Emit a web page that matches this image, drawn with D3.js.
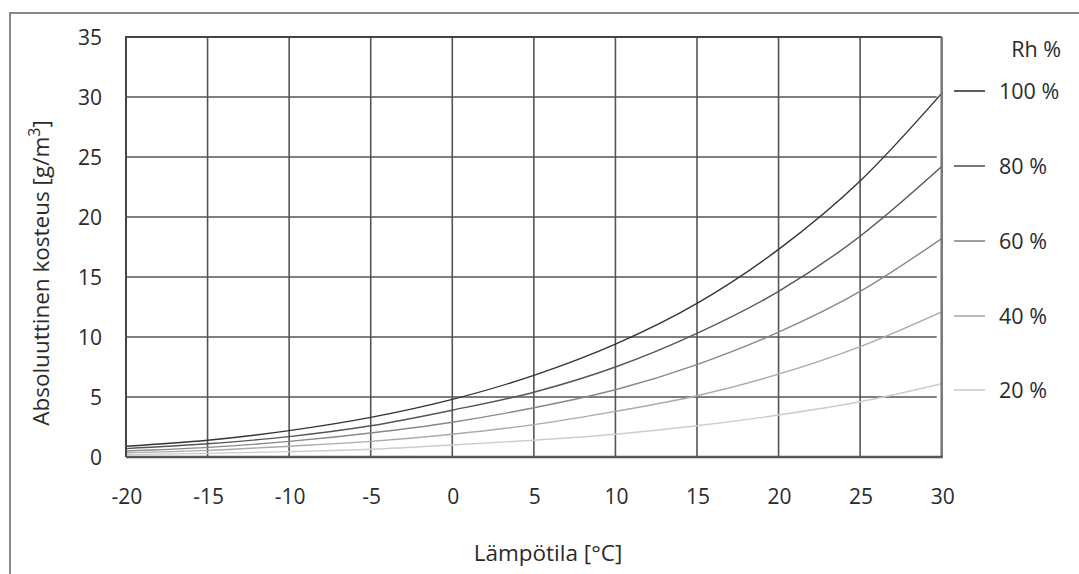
<!DOCTYPE html>
<html><head><meta charset="utf-8">
<script src="https://cdn.jsdelivr.net/npm/d3@7"></script>
<style>
html,body{margin:0;padding:0;background:#fff;}
svg text{font-family:"Open Sans","Noto Sans",sans-serif;fill:#2a2a2a;}
</style></head>
<body>
<svg id="chart" width="1079" height="574"></svg>
<script>
const temperatures = [-20,-15,-10,-5,0,5,10,15,20,25,30];
const rh100 = [0.9,1.4,2.2,3.3,4.8,6.8,9.4,12.8,17.3,23.0,30.3];
const rh80  = [0.7,1.1,1.7,2.6,3.9,5.4,7.5,10.3,13.8,18.4,24.2];
const rh60  = [0.5,0.8,1.3,2.0,2.9,4.1,5.6,7.7,10.4,13.8,18.2];
const rh40  = [0.35,0.55,0.9,1.3,1.9,2.7,3.8,5.1,6.9,9.2,12.1];
const rh20  = [0.2,0.3,0.45,0.65,1.0,1.4,1.9,2.6,3.5,4.6,6.1];
const seriesNames = ["100 %","80 %","60 %","40 %","20 %"];
const seriesValues = [rh100,rh80,rh60,rh40,rh20];
const seriesColors = ["#333","#555","#888","#aaa","#ccc"];
const xTicks = [-20,-15,-10,-5,0,5,10,15,20,25,30];
const yTicks = [0,5,10,15,20,25,30,35];

const svg = d3.select("#chart");
const L=126, R=941.7, T=37, B=457;
const x = d3.scaleLinear().domain([-20,30]).range([L,R]);
const y = d3.scaleLinear().domain([0,35]).range([B,T]);

// outer frame
svg.append("path").attr("d",`M10,580 V13 H1090`).attr("fill","none")
  .attr("stroke","#888").attr("stroke-width",2);

// grid
const g = svg.append("g");
g.selectAll(".vg").data(xTicks.slice(1,-1)).join("line")
  .attr("x1",d=>x(d)).attr("x2",d=>x(d)).attr("y1",T).attr("y2",B)
  .attr("stroke","#555").attr("stroke-width",1.6);
g.selectAll(".hg").data(yTicks.slice(1,-1)).join("line")
  .attr("x1",L).attr("x2",R-5).attr("y1",d=>y(d)).attr("y2",d=>y(d))
  .attr("stroke","#555").attr("stroke-width",1.6);

// curves
const line = d3.line().x(d=>x(d[0])).y(d=>y(d[1])).curve(d3.curveMonotoneX);
seriesValues.forEach((vals,i)=>{
  svg.append("path").datum(temperatures.map((t,j)=>[t,vals[j]]))
    .attr("d",line).attr("fill","none").attr("stroke",seriesColors[i]).attr("stroke-width",1.4);
});

// plot border
svg.append("path").attr("d",`M${L},${B} V${T} H${R}`).attr("fill","none").attr("stroke","#444").attr("stroke-width",2);
svg.append("line").attr("x1",R).attr("x2",R).attr("y1",T).attr("y2",B).attr("stroke","#777").attr("stroke-width",2.5);
svg.append("line").attr("x1",L).attr("x2",R+1).attr("y1",B).attr("y2",B).attr("stroke","#555").attr("stroke-width",2.5);

// y tick labels
svg.selectAll(".yl").data(yTicks).join("text")
  .attr("x",102).attr("y",d=>y(d)+7.5).attr("text-anchor","end")
  .attr("font-size",21).text(d=>d);
// x tick labels
svg.selectAll(".xl").data(xTicks).join("text")
  .attr("x",d=>x(d)+1).attr("y",504).attr("text-anchor","middle")
  .attr("font-size",21).text(d=>d);

// axis titles
svg.append("text").attr("x",548).attr("y",561).attr("text-anchor","middle")
  .attr("font-size",22.5).text("Lämpötila [°C]");
const yt = svg.append("text").attr("transform","translate(49,273) rotate(-90)")
  .attr("text-anchor","middle").attr("font-size",22.5);
yt.append("tspan").text("Absoluuttinen kosteus [g/m");
yt.append("tspan").attr("dy",-9).attr("font-size",16).text("3");
yt.append("tspan").attr("dy",9).text("]");

// legend
svg.append("text").attr("x",1061).attr("y",57).attr("text-anchor","end").attr("font-size",21.5).text("Rh %");
const legY = [91,166,241,316,390];
seriesNames.forEach((n,i)=>{
  svg.append("line").attr("x1",954).attr("x2",985).attr("y1",legY[i]).attr("y2",legY[i])
    .attr("stroke",seriesColors[i]).attr("stroke-width",1.6);
  svg.append("text").attr("x",999).attr("y",legY[i]+8).attr("font-size",21.5).text(n);
});
</script>
</body></html>
